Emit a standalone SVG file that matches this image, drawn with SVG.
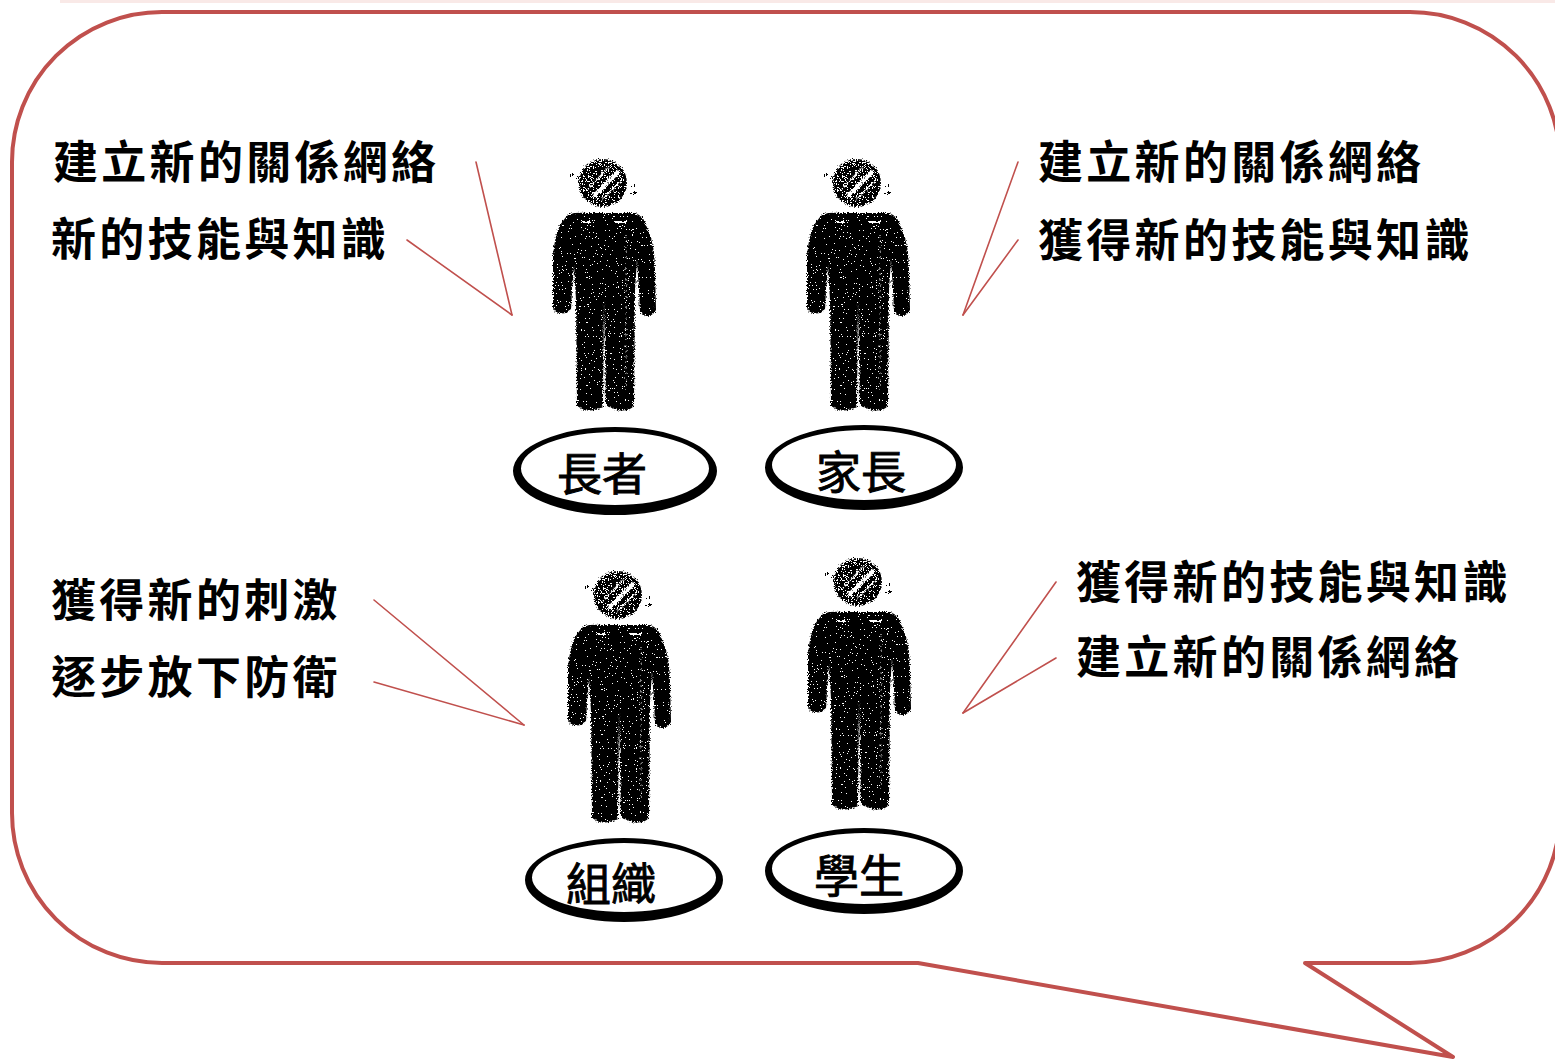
<svg xmlns="http://www.w3.org/2000/svg" xmlns:xlink="http://www.w3.org/1999/xlink" width="1555" height="1061" viewBox="0 0 1555 1061">
  <style>
    .callout { fill: none; stroke: #c0504d; stroke-width: 4; stroke-linejoin: round; }
    .pointer { stroke: #c0504d; stroke-width: 1.6; fill: none; stroke-linecap: round; }
    .note { font-family: "Noto Sans CJK TC", "Noto Sans CJK SC", sans-serif; font-size: 45px; font-weight: bold; letter-spacing: 3.3px; fill: #000; }
    .tag { font-family: "Noto Sans CJK TC", "Noto Sans CJK SC", sans-serif; font-size: 45px; font-weight: normal; fill: #000; stroke: #000; stroke-width: 0.9; text-anchor: middle; }
    .ring { fill: #000; fill-rule: evenodd; }
  </style>
  <defs>
    <!-- grainy charcoal texture: rough edges plus scattered pinholes -->
    <filter id="chalk" x="-15%" y="-10%" width="130%" height="120%">
      <feTurbulence type="fractalNoise" baseFrequency="0.75" numOctaves="2" seed="7" result="noise"/>
      <feDisplacementMap in="SourceGraphic" in2="noise" scale="5" xChannelSelector="R" yChannelSelector="G" result="rough"/>
      <feColorMatrix in="noise" type="matrix" values="0 0 0 0 0  0 0 0 0 0  0 0 0 0 0  4 0 0 0 -0.9" result="speck"/>
      <feComponentTransfer in="speck" result="mask">
        <feFuncA type="discrete" tableValues="0 1 1 1"/>
      </feComponentTransfer>
      <feComposite in="rough" in2="mask" operator="in"/>
    </filter>
    <!-- lighter, scratchier texture for the head -->
    <filter id="chalkHead" x="-30%" y="-30%" width="160%" height="160%">
      <feTurbulence type="fractalNoise" baseFrequency="0.8" numOctaves="2" seed="3" result="noise"/>
      <feDisplacementMap in="SourceGraphic" in2="noise" scale="6" xChannelSelector="R" yChannelSelector="G" result="rough"/>
      <feColorMatrix in="noise" type="matrix" values="0 0 0 0 0  0 0 0 0 0  0 0 0 0 0  4 0 0 0 -1.3" result="speck"/>
      <feComponentTransfer in="speck" result="mask">
        <feFuncA type="discrete" tableValues="0 1 1 1"/>
      </feComponentTransfer>
      <feComposite in="rough" in2="mask" operator="in"/>
    </filter>
    <!-- standing person silhouette, local origin at top-left -->
    <g id="person">
      <g filter="url(#chalkHead)">
        <circle cx="67" cy="43" r="24" fill="#000"/>
        <path d="M58,56 L83,31" stroke="#fff" stroke-width="4"/>
        <path d="M52,49 L73,27" stroke="#fff" stroke-width="1.5"/>
        <path d="M66,60 L86,40" stroke="#fff" stroke-width="1.2"/>
        <rect x="34" y="34" width="4" height="2" fill="#000"/>
        <rect x="40" y="37" width="3" height="2" fill="#000"/>
        <rect x="96" y="44" width="3" height="2" fill="#000"/>
        <rect x="95" y="52" width="6" height="2" fill="#000"/>
      </g>
      <g filter="url(#chalk)">
        <path d="M30,77 Q34,72 50,73 L95,73 Q104,73 108,80 L114,95 Q119,110 119,130 L120,170 Q116,177 110,176 L104,172 L103,150 L101,120 L99,150 L98,266 Q92,272 82,270 L70,266 L68,160 L67,266 Q60,272 48,270 L41,266 L40,160 L38,125 L36,150 L35,170 Q28,176 20,172 L17,168 L17,115 Q19,95 24,85 Z" fill="#000"/>
        <path d="M90,95 V250" stroke="#fff" stroke-width="1" stroke-dasharray="1.5 4"/>
        <path d="M45,82 h10 M78,82 h12" stroke="#fff" stroke-width="2"/>
      </g>
    </g>
  </defs>

  <rect width="1555" height="1061" fill="#fff"/>
  <rect x="60" y="0" width="1495" height="3" fill="#f9e9e7"/>

  <!-- speech bubble outline -->
  <path class="callout" d="M162,12 H1410 A150,150 0 0 1 1560,162 V813 A150,150 0 0 1 1410,963 H1305 L1453,1057 L918,963 H162 A150,150 0 0 1 12,813 V162 A150,150 0 0 1 162,12 Z"/>

  <g id="connectors">
    <line class="pointer" x1="476" y1="162" x2="512" y2="315"/>
    <line class="pointer" x1="407" y1="240" x2="512" y2="315"/>
    <line class="pointer" x1="1018" y1="162" x2="963" y2="315"/>
    <line class="pointer" x1="1018" y1="240" x2="963" y2="315"/>
    <line class="pointer" x1="374" y1="600" x2="524" y2="725"/>
    <line class="pointer" x1="374" y1="682" x2="524" y2="725"/>
    <line class="pointer" x1="1056" y1="582" x2="963" y2="713"/>
    <line class="pointer" x1="1056" y1="658" x2="963" y2="713"/>
  </g>

  <g id="node-elder">
    <use xlink:href="#person" x="536" y="140"/>
    <path class="ring" d="M513,471 a102,44 0 1 0 204,0 a102,44 0 1 0 -204,0 Z M521,468.5 a94,36.5 0 1 0 188,0 a94,36.5 0 1 0 -188,0 Z"/>
    <text class="tag" x="602" y="491">長者</text>
  </g>
  <g id="node-parent">
    <use xlink:href="#person" x="790" y="140"/>
    <path class="ring" d="M765,467.5 a99,42.5 0 1 0 198,0 a99,42.5 0 1 0 -198,0 Z M772,465 a92,35 0 1 0 184,0 a92,35 0 1 0 -184,0 Z"/>
    <text class="tag" x="861" y="489">家長</text>
  </g>
  <g id="node-organization">
    <use xlink:href="#person" x="551" y="552"/>
    <path class="ring" d="M525,880 a99,42 0 1 0 198,0 a99,42 0 1 0 -198,0 Z M532,877.5 a92,34.5 0 1 0 184,0 a92,34.5 0 1 0 -184,0 Z"/>
    <text class="tag" x="611" y="901">組織</text>
  </g>
  <g id="node-student">
    <use xlink:href="#person" x="791" y="539"/>
    <path class="ring" d="M765,871 a99,43 0 1 0 198,0 a99,43 0 1 0 -198,0 Z M772,868.5 a92,35.5 0 1 0 184,0 a92,35.5 0 1 0 -184,0 Z"/>
    <text class="tag" x="859" y="893">學生</text>
  </g>

  <g id="note-elder">
    <text class="note" x="53" y="179">建立新的關係網絡</text>
    <text class="note" x="51" y="256">新的技能與知識</text>
  </g>
  <g id="note-parent">
    <text class="note" x="1038" y="179">建立新的關係網絡</text>
    <text class="note" x="1038" y="257">獲得新的技能與知識</text>
  </g>
  <g id="note-organization">
    <text class="note" x="51" y="617">獲得新的刺激</text>
    <text class="note" x="51" y="694">逐步放下防衛</text>
  </g>
  <g id="note-student">
    <text class="note" x="1076" y="599">獲得新的技能與知識</text>
    <text class="note" x="1076" y="674">建立新的關係網絡</text>
  </g>
</svg>
